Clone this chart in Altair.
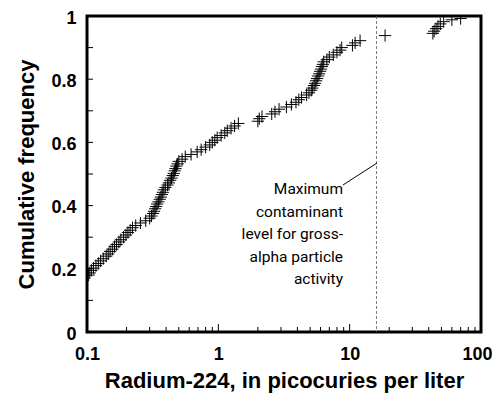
import altair as alt
import pandas as pd

# Radium-224 concentrations (pCi/L) and their cumulative frequency
radium = [
    0.103, 0.105, 0.108, 0.112, 0.117, 0.122, 0.127, 0.133, 0.140, 0.145,
    0.150, 0.156, 0.162, 0.168, 0.175, 0.181, 0.190, 0.198, 0.205, 0.213,
    0.222, 0.235, 0.255, 0.280, 0.300,
    0.310, 0.318, 0.324, 0.330, 0.336, 0.342, 0.350, 0.358, 0.365, 0.372,
    0.378, 0.385, 0.395, 0.410, 0.420, 0.430, 0.440, 0.450, 0.458, 0.465,
    0.472, 0.480, 0.490, 0.500,
    0.530, 0.560, 0.620, 0.690, 0.740, 0.800, 0.860,
    0.900, 0.940, 0.980, 1.050, 1.120, 1.170, 1.250, 1.330, 1.420,
    2.000, 2.050, 2.150, 2.550, 2.700, 2.900, 3.300, 3.600, 3.900,
    4.100, 4.300, 4.700, 4.900, 5.100, 5.200, 5.350, 5.450, 5.550, 5.650,
    5.750, 5.850, 5.950, 6.050, 6.150, 6.250, 6.350, 6.700, 7.000, 7.500,
    8.000, 8.450, 8.700, 10.50, 11.00, 12.00,
    18.60,
    43.0, 44.0, 45.5, 47.0, 49.0, 52.0, 60.0, 70.0,
]
cumfreq = [
    0.180, 0.187, 0.195, 0.202, 0.210, 0.217, 0.225, 0.232, 0.240, 0.247,
    0.255, 0.262, 0.270, 0.277, 0.285, 0.292, 0.300, 0.307, 0.315, 0.322,
    0.330, 0.337, 0.345, 0.352, 0.360,
    0.367, 0.375, 0.382, 0.390, 0.397, 0.405, 0.412, 0.420, 0.427, 0.435,
    0.442, 0.450, 0.457, 0.465, 0.472, 0.480, 0.487, 0.495, 0.502, 0.510,
    0.517, 0.525, 0.532, 0.540,
    0.547, 0.555, 0.562, 0.570, 0.577, 0.585, 0.592,
    0.600, 0.607, 0.615, 0.622, 0.630, 0.637, 0.645, 0.652, 0.660,
    0.667, 0.675, 0.682, 0.690, 0.697, 0.705, 0.712, 0.720, 0.727,
    0.735, 0.742, 0.750, 0.757, 0.765, 0.772, 0.780, 0.787, 0.795, 0.802,
    0.810, 0.817, 0.825, 0.832, 0.840, 0.847, 0.855, 0.862, 0.870, 0.877,
    0.885, 0.892, 0.900, 0.907, 0.915, 0.922,
    0.938,
    0.945, 0.952, 0.960, 0.967, 0.975, 0.982, 0.988, 0.992,
]

x_labels = [0.1, 1, 10, 100]
y_labels = [0, 0.2, 0.4, 0.6, 0.8, 1]
y_ticks = [0.1, 0.2, 0.3, 0.4, 0.5, 0.6, 0.7, 0.8, 0.9]
x_major_ticks = [1, 10]
x_minor_ticks = [0.2, 0.3, 0.4, 0.5, 0.6, 0.7, 0.8, 0.9,
                 2, 3, 4, 5, 6, 7, 8, 9,
                 20, 30, 40, 50, 60, 70, 80, 90]
mcl = [16]
note_lines = ["Maximum", "contaminant", "level for gross-", "alpha particle", "activity"]

W, H = 394, 316
BOLD = "Liberation Sans, Arial, sans-serif"
NOTE = "Roboto, Liberation Sans, sans-serif"

df = pd.DataFrame({"value": radium, "freq": cumfreq})

xscale = alt.Scale(type="log", domain=[0.1, 100])
yscale = alt.Scale(domain=[0, 1])

CROSS = "M-1,0L1,0M0,-1L0,1"

points = alt.Chart(df).mark_point(
    shape=CROSS, size=150, filled=False, stroke="black", strokeWidth=1.0,
    opacity=1, clip=True,
).encode(
    x=alt.X("value:Q", scale=xscale,
            axis=alt.Axis(values=x_labels, format="~g", ticks=False, domain=False, grid=False,
                          labelFont=BOLD, labelFontSize=18, labelFontWeight="bold",
                          labelColor="black", labelPadding=13, labelFlush=False,
                          labelAlign=alt.condition("datum.value == 100", alt.value("right"), alt.value("center")),
                          labelOffset=alt.condition("datum.value == 100", alt.value(11), alt.value(0)),
                          title="Radium-224, in picocuries per liter",
                          titleFont=BOLD, titleFontSize=22, titleFontWeight="bold",
                          titleColor="black", titlePadding=7)),
    y=alt.Y("freq:Q", scale=yscale,
            axis=alt.Axis(values=y_labels, format="~g", ticks=False, domain=False, grid=False,
                          labelFont=BOLD, labelFontSize=18, labelFontWeight="bold",
                          labelColor="black", labelPadding=11, labelOffset=2,
                          title="Cumulative frequency",
                          titleFont=BOLD, titleFontSize=22, titleFontWeight="bold",
                          titleColor="black", titlePadding=12)),
)

ytick_layer = alt.Chart(pd.DataFrame({"freq": y_ticks})).mark_rule(
    color="black", strokeWidth=1
).encode(
    y=alt.Y("freq:Q", scale=yscale),
    x=alt.value(0), x2=alt.value(6),
)

xmajor_layer = alt.Chart(pd.DataFrame({"value": x_major_ticks})).mark_rule(
    color="black", strokeWidth=1
).encode(
    x=alt.X("value:Q", scale=xscale),
    y=alt.value(H), y2=alt.value(H - 8),
)

xminor_layer = alt.Chart(pd.DataFrame({"value": x_minor_ticks})).mark_rule(
    color="black", strokeWidth=1
).encode(
    x=alt.X("value:Q", scale=xscale),
    y=alt.value(H), y2=alt.value(H - 5),
)

mcl_layer = alt.Chart(pd.DataFrame({"value": mcl})).mark_rule(
    color="#555555", strokeWidth=0.8, strokeDash=[3, 2]
).encode(
    x=alt.X("value:Q", scale=xscale),
    y=alt.value(0), y2=alt.value(H),
)

note = alt.Chart(pd.DataFrame({"k": [0]})).mark_text(
    text=note_lines, align="right", baseline="alphabetic", lineHeight=22.5,
    font=NOTE, fontSize=15.5, color="black",
).encode(x=alt.value(256), y=alt.value(178))

leader = alt.Chart(pd.DataFrame({"k": [0]})).mark_rule(
    color="black", strokeWidth=1
).encode(x=alt.value(256), y=alt.value(169), x2=alt.value(290), y2=alt.value(147))

chart = alt.layer(
    points, mcl_layer, ytick_layer, xmajor_layer, xminor_layer, note, leader
).properties(
    width=W, height=H,
    autosize=alt.AutoSizeParams(type="none"),
    padding={"left": 79, "top": 8, "right": 11, "bottom": 63},
).configure_view(
    stroke="black", strokeWidth=3,
)

chart.save("out.html", embed_options={"renderer": "svg", "actions": False})
